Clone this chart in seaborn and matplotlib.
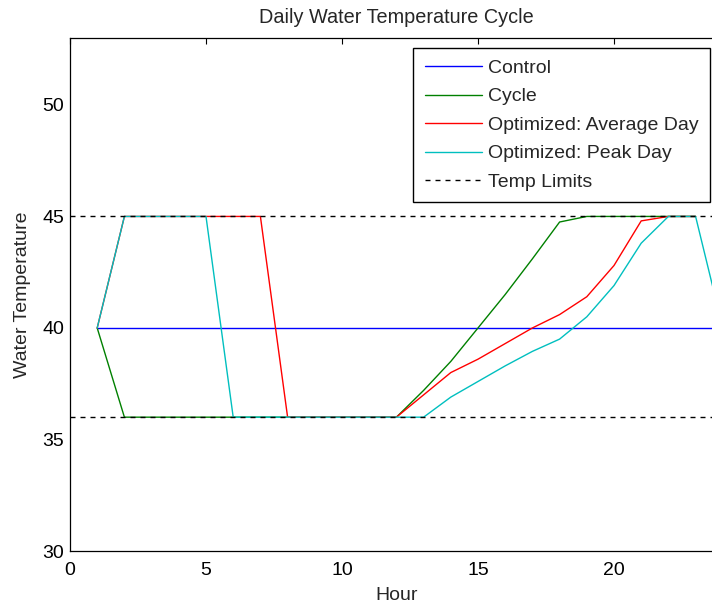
import matplotlib
matplotlib.use("Agg")
import matplotlib.pyplot as plt
import seaborn as sns
import pandas as pd

hours_control = list(range(1, 25))
control = [40] * 24

hours_cycle = list(range(1, 24))
cycle = [40, 36, 36, 36, 36, 36, 36, 36, 36, 36, 36, 36,
         37.2, 38.5, 40.0, 41.5, 43.1, 44.75, 45, 45, 45, 45, 45]

hours_avg = list(range(1, 24))
avg_day = [40, 45, 45, 45, 45, 45, 45, 36, 36, 36, 36, 36,
           37.0, 38.0, 38.6, 39.3, 40.0, 40.6, 41.4, 42.8, 44.8, 45, 45]

hours_peak = list(range(1, 25))
peak_day = [40, 45, 45, 45, 45, 36, 36, 36, 36, 36, 36, 36,
            36, 36.9, 37.6, 38.3, 38.95, 39.5, 40.5, 41.9, 43.8, 45, 45, 40]

limit_x = [0, 24]
upper_limit = [45, 45]
lower_limit = [36, 36]

series_names = ["Control", "Cycle", "Optimized: Average Day", "Optimized: Peak Day"]
series_colors = ["#0000ff", "#008000", "#ff0000", "#00bfbf"]

sns.set_style("white")
plt.rcParams["font.family"] = ["Liberation Sans", "DejaVu Sans"]

fig = plt.figure(figsize=(7.12, 6.10), dpi=100)
ax = fig.add_axes([70 / 712, 59 / 610, 652.8 / 712, 513 / 610])

data_sets = [(hours_control, control), (hours_cycle, cycle),
             (hours_avg, avg_day), (hours_peak, peak_day)]
for (xs, ys), name, col in zip(data_sets, series_names, series_colors):
    df = pd.DataFrame({"Hour": xs, "Temp": ys})
    sns.lineplot(data=df, x="Hour", y="Temp", ax=ax, color=col, lw=1.0,
                 label=name, estimator=None, sort=False)

lim_df_u = pd.DataFrame({"Hour": limit_x, "Temp": upper_limit})
lim_df_l = pd.DataFrame({"Hour": limit_x, "Temp": lower_limit})
sns.lineplot(data=lim_df_u, x="Hour", y="Temp", ax=ax, color="black", lw=1.0,
             dashes=False, label="Temp Limits", estimator=None)
sns.lineplot(data=lim_df_l, x="Hour", y="Temp", ax=ax, color="black", lw=1.0,
             dashes=False, estimator=None)
for ln in ax.lines[-2:]:
    ln.set_linestyle((0, (3.6, 3.6)))

ax.set_xlim(0, 24)
ax.set_ylim(30, 53)
ax.set_xticks([0, 5, 10, 15, 20])
ax.set_yticks([30, 35, 40, 45, 50])
ax.tick_params(direction="in", length=4, width=0.8, top=True, right=True,
               labelsize=14, colors="black", pad=4)
ax.tick_params(axis="x", pad=8)
for s in ax.spines.values():
    s.set_color("black")
    s.set_linewidth(0.9)

ax.set_title("Daily Water Temperature Cycle", fontsize=14.3, pad=11)
ax.set_xlabel("Hour", fontsize=14, labelpad=6)
ax.set_ylabel("Water Temperature", fontsize=14, labelpad=8)

handles, labels = ax.get_legend_handles_labels()
leg = ax.legend(handles, labels, loc="upper right",
                bbox_to_anchor=(710 / 712, 1 - 48 / 610),
                bbox_transform=fig.transFigure,
                fontsize=14, frameon=True, fancybox=False, framealpha=1,
                edgecolor="black", handlelength=2.95, handletextpad=0.32,
                labelspacing=0.56, borderpad=0.58, borderaxespad=0)
leg.get_frame().set_linewidth(1.0)
leg.legend_handles[-1].set_linestyle((0, (3.6, 3.6)))

fig.savefig("out.png", dpi=100)
